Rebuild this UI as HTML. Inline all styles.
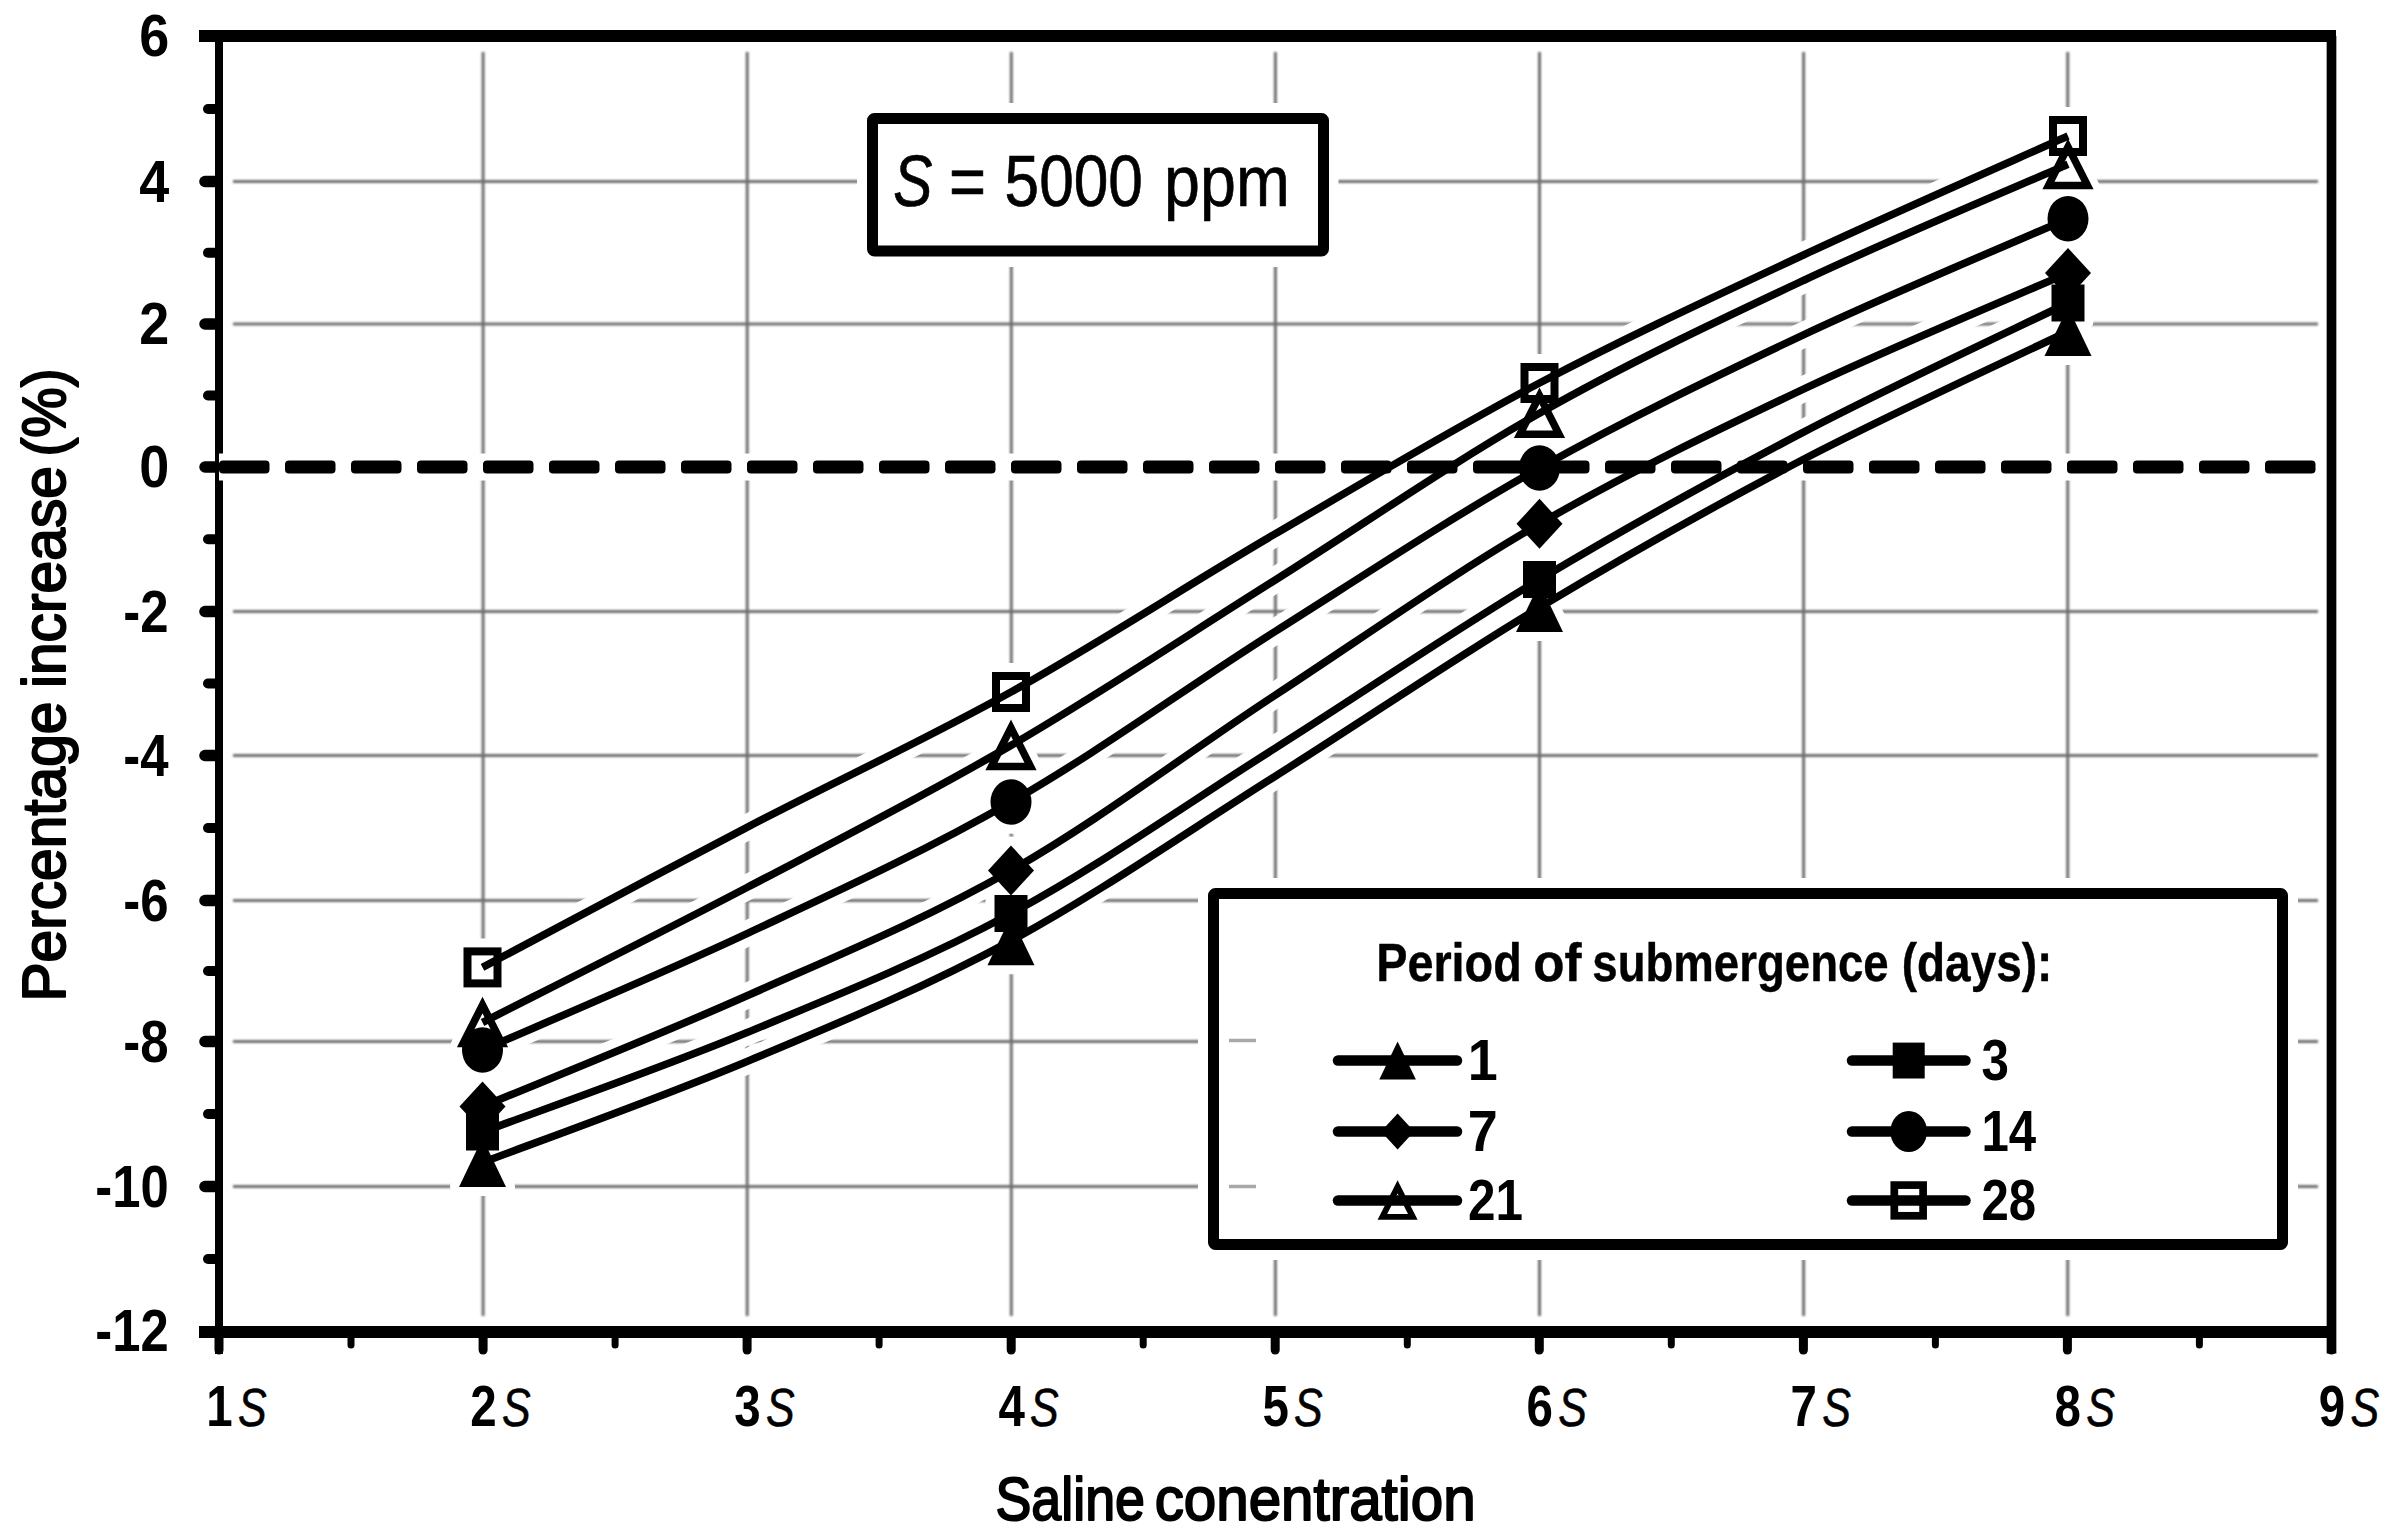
<!DOCTYPE html>
<html lang="en"><head><meta charset="utf-8"><title>Percentage increase vs saline concentration</title>
<style>html,body{margin:0;padding:0;background:#fff}svg{display:block}</style></head>
<body>
<svg width="2389" height="1539" viewBox="0 0 2389 1539" font-family='"Liberation Sans", sans-serif'>
<rect width="2389" height="1539" fill="#fff"/>
<defs><filter id="soft" x="-2%" y="-2%" width="104%" height="104%"><feGaussianBlur stdDeviation="0.8"/></filter></defs>
<g stroke="#707070" stroke-width="3" fill="none" filter="url(#soft)">
<line x1="233" y1="181.5" x2="2318" y2="181.5"/>
<line x1="233" y1="324" x2="2318" y2="324"/>
<line x1="233" y1="611.5" x2="2318" y2="611.5"/>
<line x1="233" y1="755.5" x2="2318" y2="755.5"/>
<line x1="233" y1="900.5" x2="2318" y2="900.5"/>
<line x1="233" y1="1041.5" x2="2318" y2="1041.5"/>
<line x1="233" y1="1186.5" x2="2318" y2="1186.5"/>
<line x1="483.1" y1="52" x2="483.1" y2="1316"/>
<line x1="747.2" y1="52" x2="747.2" y2="1316"/>
<line x1="1011.3" y1="52" x2="1011.3" y2="1316"/>
<line x1="1275.4" y1="52" x2="1275.4" y2="1316"/>
<line x1="1539.5" y1="52" x2="1539.5" y2="1316"/>
<line x1="1803.6" y1="52" x2="1803.6" y2="1316"/>
<line x1="2067.7" y1="52" x2="2067.7" y2="1316"/>
</g>
<g stroke="#000" fill="none">
<line x1="199" y1="36" x2="2336" y2="36" stroke-width="12"/>
<line x1="199" y1="1332" x2="2336" y2="1332" stroke-width="12"/>
<line x1="219" y1="36" x2="219" y2="1354" stroke-width="8"/>
<line x1="2331.5" y1="36" x2="2331.5" y2="1353.5" stroke-width="9.7"/>
<line x1="208" y1="1259.0" x2="216.5" y2="1259.0" stroke-width="10" stroke-linecap="round"/>
<line x1="205" y1="1186.5" x2="216.5" y2="1186.5" stroke-width="11.5" stroke-linecap="round"/>
<line x1="208" y1="1114.0" x2="216.5" y2="1114.0" stroke-width="10" stroke-linecap="round"/>
<line x1="205" y1="1041.5" x2="216.5" y2="1041.5" stroke-width="11.5" stroke-linecap="round"/>
<line x1="208" y1="971.0" x2="216.5" y2="971.0" stroke-width="10" stroke-linecap="round"/>
<line x1="205" y1="900.5" x2="216.5" y2="900.5" stroke-width="11.5" stroke-linecap="round"/>
<line x1="208" y1="828.0" x2="216.5" y2="828.0" stroke-width="10" stroke-linecap="round"/>
<line x1="205" y1="755.5" x2="216.5" y2="755.5" stroke-width="11.5" stroke-linecap="round"/>
<line x1="208" y1="683.5" x2="216.5" y2="683.5" stroke-width="10" stroke-linecap="round"/>
<line x1="205" y1="611.5" x2="216.5" y2="611.5" stroke-width="11.5" stroke-linecap="round"/>
<line x1="208" y1="539.25" x2="216.5" y2="539.25" stroke-width="10" stroke-linecap="round"/>
<line x1="205" y1="467" x2="216.5" y2="467" stroke-width="11.5" stroke-linecap="round"/>
<line x1="208" y1="395.5" x2="216.5" y2="395.5" stroke-width="10" stroke-linecap="round"/>
<line x1="205" y1="324" x2="216.5" y2="324" stroke-width="11.5" stroke-linecap="round"/>
<line x1="208" y1="252.75" x2="216.5" y2="252.75" stroke-width="10" stroke-linecap="round"/>
<line x1="205" y1="181.5" x2="216.5" y2="181.5" stroke-width="11.5" stroke-linecap="round"/>
<line x1="208" y1="109.0" x2="216.5" y2="109.0" stroke-width="10" stroke-linecap="round"/>
<line x1="219.0" y1="1332" x2="219.0" y2="1350" stroke-width="9" stroke-linecap="round"/>
<line x1="351.0" y1="1332" x2="351.0" y2="1345" stroke-width="7" stroke-linecap="round"/>
<line x1="483.1" y1="1332" x2="483.1" y2="1350" stroke-width="9" stroke-linecap="round"/>
<line x1="615.1" y1="1332" x2="615.1" y2="1345" stroke-width="7" stroke-linecap="round"/>
<line x1="747.1" y1="1332" x2="747.1" y2="1350" stroke-width="9" stroke-linecap="round"/>
<line x1="879.1" y1="1332" x2="879.1" y2="1345" stroke-width="7" stroke-linecap="round"/>
<line x1="1011.2" y1="1332" x2="1011.2" y2="1350" stroke-width="9" stroke-linecap="round"/>
<line x1="1143.2" y1="1332" x2="1143.2" y2="1345" stroke-width="7" stroke-linecap="round"/>
<line x1="1275.2" y1="1332" x2="1275.2" y2="1350" stroke-width="9" stroke-linecap="round"/>
<line x1="1407.3" y1="1332" x2="1407.3" y2="1345" stroke-width="7" stroke-linecap="round"/>
<line x1="1539.3" y1="1332" x2="1539.3" y2="1350" stroke-width="9" stroke-linecap="round"/>
<line x1="1671.3" y1="1332" x2="1671.3" y2="1345" stroke-width="7" stroke-linecap="round"/>
<line x1="1803.4" y1="1332" x2="1803.4" y2="1350" stroke-width="9" stroke-linecap="round"/>
<line x1="1935.4" y1="1332" x2="1935.4" y2="1345" stroke-width="7" stroke-linecap="round"/>
<line x1="2067.4" y1="1332" x2="2067.4" y2="1350" stroke-width="9" stroke-linecap="round"/>
<line x1="2199.4" y1="1332" x2="2199.4" y2="1345" stroke-width="7" stroke-linecap="round"/>
<line x1="2331.5" y1="1332" x2="2331.5" y2="1350" stroke-width="9" stroke-linecap="round"/>
</g>
<g fill="none" stroke="#fff" stroke-width="25.6" stroke-linejoin="round">
<path d="M482.5,1162.5 C526.6,1145.7 658.9,1098.5 747.0,1061.5 C835.1,1024.5 923.1,988.3 1011.0,940.8 C1098.9,893.3 1186.4,832.2 1274.5,776.7 C1362.6,721.2 1451.2,660.5 1539.5,607.5 C1627.8,554.5 1715.9,505.0 1804.0,459.0 C1892.1,413.0 2024.0,352.8 2068.0,331.5"/>
<path d="M482.5,1132.0 C526.6,1115.4 658.9,1068.9 747.0,1032.5 C835.1,996.1 923.1,960.8 1011.0,913.5 C1098.9,866.2 1186.4,804.3 1274.5,748.6 C1362.6,692.9 1451.2,632.3 1539.5,579.5 C1627.8,526.7 1715.9,478.0 1804.0,431.9 C1892.1,385.8 2024.0,324.5 2068.0,303.0"/>
<path d="M482.5,1106.5 C526.6,1088.0 658.9,1035.1 747.0,995.8 C835.1,956.5 923.1,920.5 1011.0,870.5 C1098.9,820.5 1186.4,753.4 1274.5,695.6 C1362.6,637.8 1451.2,574.9 1539.5,523.8 C1627.8,472.7 1715.9,430.7 1804.0,388.9 C1892.1,347.1 2024.0,292.3 2068.0,273.0"/>
<path d="M482.5,1050.0 C526.6,1030.6 658.9,974.9 747.0,933.6 C835.1,892.3 923.1,852.3 1011.0,802.0 C1098.9,751.7 1186.4,687.6 1274.5,631.9 C1362.6,576.2 1451.2,517.5 1539.5,468.0 C1627.8,418.4 1715.9,376.2 1804.0,334.6 C1892.1,293.1 2024.0,238.0 2068.0,218.7"/>
<path d="M482.5,1022.5 C526.6,1000.0 658.9,933.7 747.0,887.5 C835.1,841.3 923.1,796.6 1011.0,745.4 C1098.9,694.2 1186.4,635.9 1274.5,580.5 C1362.6,525.1 1451.2,463.2 1539.5,413.2 C1627.8,363.1 1715.9,321.7 1804.0,280.2 C1892.1,238.7 2024.0,183.6 2068.0,164.3"/>
<path d="M482.5,967.4 C526.6,944.0 658.9,873.2 747.0,827.3 C835.1,781.4 923.1,740.8 1011.0,692.0 C1098.9,643.2 1186.4,585.8 1274.5,534.3 C1362.6,482.8 1451.2,429.6 1539.5,383.0 C1627.8,336.4 1715.9,295.9 1804.0,254.7 C1892.1,213.5 2024.0,155.8 2068.0,136.0"/>
</g>
<g stroke="#fff" stroke-width="18" stroke-linejoin="round" fill="#fff">
<polygon points="482.5,1138.0 506.0,1187.0 459.0,1187.0"/>
<polygon points="1011.0,916.3 1034.5,965.3 987.5,965.3"/>
<polygon points="1539.5,583.0 1563.0,632.0 1516.0,632.0"/>
<polygon points="2068.0,307.0 2091.5,356.0 2044.5,356.0"/>
<rect x="466.0" y="1113.5" width="33.0" height="37.0"/>
<rect x="994.5" y="895.0" width="33.0" height="37.0"/>
<rect x="1523.0" y="561.0" width="33.0" height="37.0"/>
<rect x="2051.5" y="284.5" width="33.0" height="37.0"/>
<polygon points="482.5,1081.5 505.5,1106.5 482.5,1131.5 459.5,1106.5"/>
<polygon points="1011.0,845.5 1034.0,870.5 1011.0,895.5 988.0,870.5"/>
<polygon points="1539.5,498.8 1562.5,523.8 1539.5,548.8 1516.5,523.8"/>
<polygon points="2068.0,248.0 2091.0,273.0 2068.0,298.0 2045.0,273.0"/>
<ellipse cx="482.5" cy="1050.0" rx="20.5" ry="22.8"/>
<ellipse cx="1011.0" cy="802.0" rx="20.5" ry="22.8"/>
<ellipse cx="1539.5" cy="468.0" rx="20.5" ry="22.8"/>
<ellipse cx="2068.0" cy="218.7" rx="20.5" ry="22.8"/>
<polygon points="482.5,998.0 506.0,1047.0 459.0,1047.0"/>
<polygon points="1011.0,720.9 1034.5,769.9 987.5,769.9"/>
<polygon points="1539.5,388.7 1563.0,437.7 1516.0,437.7"/>
<polygon points="2068.0,139.8 2091.5,188.8 2044.5,188.8"/>
<rect x="463.5" y="947.4" width="38.0" height="40.0"/>
<rect x="992.0" y="672.0" width="38.0" height="40.0"/>
<rect x="1520.5" y="363.0" width="38.0" height="40.0"/>
<rect x="2049.0" y="116.0" width="38.0" height="40.0"/>
</g>
<rect x="219" y="453.5" width="2107" height="27" fill="#fff"/>
<rect x="219.0" y="460.5" width="50.5" height="13" rx="4" fill="#000"/>
<rect x="285.0" y="460.5" width="50.5" height="13" rx="4" fill="#000"/>
<rect x="351.0" y="460.5" width="50.5" height="13" rx="4" fill="#000"/>
<rect x="417.0" y="460.5" width="50.5" height="13" rx="4" fill="#000"/>
<rect x="483.0" y="460.5" width="50.5" height="13" rx="4" fill="#000"/>
<rect x="549.0" y="460.5" width="50.5" height="13" rx="4" fill="#000"/>
<rect x="615.0" y="460.5" width="50.5" height="13" rx="4" fill="#000"/>
<rect x="681.0" y="460.5" width="50.5" height="13" rx="4" fill="#000"/>
<rect x="747.0" y="460.5" width="50.5" height="13" rx="4" fill="#000"/>
<rect x="813.0" y="460.5" width="50.5" height="13" rx="4" fill="#000"/>
<rect x="879.0" y="460.5" width="50.5" height="13" rx="4" fill="#000"/>
<rect x="945.0" y="460.5" width="50.5" height="13" rx="4" fill="#000"/>
<rect x="1011.0" y="460.5" width="50.5" height="13" rx="4" fill="#000"/>
<rect x="1077.0" y="460.5" width="50.5" height="13" rx="4" fill="#000"/>
<rect x="1143.0" y="460.5" width="50.5" height="13" rx="4" fill="#000"/>
<rect x="1209.0" y="460.5" width="50.5" height="13" rx="4" fill="#000"/>
<rect x="1275.0" y="460.5" width="50.5" height="13" rx="4" fill="#000"/>
<rect x="1341.0" y="460.5" width="50.5" height="13" rx="4" fill="#000"/>
<rect x="1407.0" y="460.5" width="50.5" height="13" rx="4" fill="#000"/>
<rect x="1473.0" y="460.5" width="50.5" height="13" rx="4" fill="#000"/>
<rect x="1539.0" y="460.5" width="50.5" height="13" rx="4" fill="#000"/>
<rect x="1605.0" y="460.5" width="50.5" height="13" rx="4" fill="#000"/>
<rect x="1671.0" y="460.5" width="50.5" height="13" rx="4" fill="#000"/>
<rect x="1737.0" y="460.5" width="50.5" height="13" rx="4" fill="#000"/>
<rect x="1803.0" y="460.5" width="50.5" height="13" rx="4" fill="#000"/>
<rect x="1869.0" y="460.5" width="50.5" height="13" rx="4" fill="#000"/>
<rect x="1935.0" y="460.5" width="50.5" height="13" rx="4" fill="#000"/>
<rect x="2001.0" y="460.5" width="50.5" height="13" rx="4" fill="#000"/>
<rect x="2067.0" y="460.5" width="50.5" height="13" rx="4" fill="#000"/>
<rect x="2133.0" y="460.5" width="50.5" height="13" rx="4" fill="#000"/>
<rect x="2199.0" y="460.5" width="50.5" height="13" rx="4" fill="#000"/>
<rect x="2265.0" y="460.5" width="50.5" height="13" rx="4" fill="#000"/>
<path d="M482.5,1162.5 C526.6,1145.7 658.9,1098.5 747.0,1061.5 C835.1,1024.5 923.1,988.3 1011.0,940.8 C1098.9,893.3 1186.4,832.2 1274.5,776.7 C1362.6,721.2 1451.2,660.5 1539.5,607.5 C1627.8,554.5 1715.9,505.0 1804.0,459.0 C1892.1,413.0 2024.0,352.8 2068.0,331.5" fill="none" stroke="#000" stroke-width="7.6"/>
<path d="M482.5,1132.0 C526.6,1115.4 658.9,1068.9 747.0,1032.5 C835.1,996.1 923.1,960.8 1011.0,913.5 C1098.9,866.2 1186.4,804.3 1274.5,748.6 C1362.6,692.9 1451.2,632.3 1539.5,579.5 C1627.8,526.7 1715.9,478.0 1804.0,431.9 C1892.1,385.8 2024.0,324.5 2068.0,303.0" fill="none" stroke="#000" stroke-width="7.6"/>
<path d="M482.5,1106.5 C526.6,1088.0 658.9,1035.1 747.0,995.8 C835.1,956.5 923.1,920.5 1011.0,870.5 C1098.9,820.5 1186.4,753.4 1274.5,695.6 C1362.6,637.8 1451.2,574.9 1539.5,523.8 C1627.8,472.7 1715.9,430.7 1804.0,388.9 C1892.1,347.1 2024.0,292.3 2068.0,273.0" fill="none" stroke="#000" stroke-width="7.6"/>
<path d="M482.5,1050.0 C526.6,1030.6 658.9,974.9 747.0,933.6 C835.1,892.3 923.1,852.3 1011.0,802.0 C1098.9,751.7 1186.4,687.6 1274.5,631.9 C1362.6,576.2 1451.2,517.5 1539.5,468.0 C1627.8,418.4 1715.9,376.2 1804.0,334.6 C1892.1,293.1 2024.0,238.0 2068.0,218.7" fill="none" stroke="#000" stroke-width="7.6"/>
<path d="M482.5,1022.5 C526.6,1000.0 658.9,933.7 747.0,887.5 C835.1,841.3 923.1,796.6 1011.0,745.4 C1098.9,694.2 1186.4,635.9 1274.5,580.5 C1362.6,525.1 1451.2,463.2 1539.5,413.2 C1627.8,363.1 1715.9,321.7 1804.0,280.2 C1892.1,238.7 2024.0,183.6 2068.0,164.3" fill="none" stroke="#000" stroke-width="7.6"/>
<path d="M482.5,967.4 C526.6,944.0 658.9,873.2 747.0,827.3 C835.1,781.4 923.1,740.8 1011.0,692.0 C1098.9,643.2 1186.4,585.8 1274.5,534.3 C1362.6,482.8 1451.2,429.6 1539.5,383.0 C1627.8,336.4 1715.9,295.9 1804.0,254.7 C1892.1,213.5 2024.0,155.8 2068.0,136.0" fill="none" stroke="#000" stroke-width="7.6"/>
<polygon points="482.5,1138.0 506.0,1187.0 459.0,1187.0" fill="#000"/>
<polygon points="1011.0,916.3 1034.5,965.3 987.5,965.3" fill="#000"/>
<polygon points="1539.5,583.0 1563.0,632.0 1516.0,632.0" fill="#000"/>
<polygon points="2068.0,307.0 2091.5,356.0 2044.5,356.0" fill="#000"/>
<rect x="466.0" y="1113.5" width="33.0" height="37.0" fill="#000"/>
<rect x="994.5" y="895.0" width="33.0" height="37.0" fill="#000"/>
<rect x="1523.0" y="561.0" width="33.0" height="37.0" fill="#000"/>
<rect x="2051.5" y="284.5" width="33.0" height="37.0" fill="#000"/>
<polygon points="482.5,1081.5 505.5,1106.5 482.5,1131.5 459.5,1106.5" fill="#000"/>
<polygon points="1011.0,845.5 1034.0,870.5 1011.0,895.5 988.0,870.5" fill="#000"/>
<polygon points="1539.5,498.8 1562.5,523.8 1539.5,548.8 1516.5,523.8" fill="#000"/>
<polygon points="2068.0,248.0 2091.0,273.0 2068.0,298.0 2045.0,273.0" fill="#000"/>
<ellipse cx="482.5" cy="1050.0" rx="20.5" ry="22.8" fill="#000"/>
<ellipse cx="1011.0" cy="802.0" rx="20.5" ry="22.8" fill="#000"/>
<ellipse cx="1539.5" cy="468.0" rx="20.5" ry="22.8" fill="#000"/>
<ellipse cx="2068.0" cy="218.7" rx="20.5" ry="22.8" fill="#000"/>
<polygon points="482.5,1005.0 502.0,1043.5 463.0,1043.5" fill="none" stroke="#000" stroke-width="7.5" stroke-linejoin="miter"/>
<polygon points="1011.0,727.9 1030.5,766.4 991.5,766.4" fill="none" stroke="#000" stroke-width="7.5" stroke-linejoin="miter"/>
<polygon points="1539.5,395.8 1559.0,434.2 1520.0,434.2" fill="none" stroke="#000" stroke-width="7.5" stroke-linejoin="miter"/>
<polygon points="2068.0,146.9 2087.5,185.4 2048.5,185.4" fill="none" stroke="#000" stroke-width="7.5" stroke-linejoin="miter"/>
<rect x="467.5" y="951.4" width="30.0" height="32.0" fill="none" stroke="#000" stroke-width="8.0"/>
<rect x="996.0" y="676.0" width="30.0" height="32.0" fill="none" stroke="#000" stroke-width="8.0"/>
<rect x="1524.5" y="367.0" width="30.0" height="32.0" fill="none" stroke="#000" stroke-width="8.0"/>
<rect x="2053.0" y="120.0" width="30.0" height="32.0" fill="none" stroke="#000" stroke-width="8.0"/>
<rect x="857" y="103" width="481.5" height="164" fill="#fff"/>
<rect x="872.5" y="118.5" width="451" height="132.5" rx="2" fill="#fff" stroke="#000" stroke-width="11"/>
<rect x="1198" y="878" width="1100" height="382" fill="#fff"/>
<rect x="1213.5" y="893.5" width="1069" height="351" rx="2" fill="#fff" stroke="#000" stroke-width="11"/>
<path d="M1229,1040.5H1256M1229,1186.5H1256" stroke="#a8a8a8" stroke-width="3.5" fill="none"/>
<line x1="1338" y1="1060.5" x2="1457" y2="1060.5" stroke="#000" stroke-width="10.5" stroke-linecap="round"/>
<polygon points="1397.6,1041.4 1415.9,1079.6 1379.3,1079.6" fill="#000"/>
<line x1="1852" y1="1060.5" x2="1965.5" y2="1060.5" stroke="#000" stroke-width="10.5" stroke-linecap="round"/>
<rect x="1892.7" y="1042.6" width="32.0" height="35.9" fill="#000"/>
<line x1="1338" y1="1131.5" x2="1457" y2="1131.5" stroke="#000" stroke-width="10.5" stroke-linecap="round"/>
<polygon points="1397.6,1113.5 1414.2,1131.5 1397.6,1149.5 1381.0,1131.5" fill="#000"/>
<line x1="1852" y1="1131.5" x2="1965.5" y2="1131.5" stroke="#000" stroke-width="10.5" stroke-linecap="round"/>
<ellipse cx="1908.7" cy="1131.5" rx="18.4" ry="20.5" fill="#000"/>
<line x1="1338" y1="1200.5" x2="1457" y2="1200.5" stroke="#000" stroke-width="10.5" stroke-linecap="round"/>
<polygon points="1397.6,1186.9 1412.8,1216.9 1382.4,1216.9" fill="none" stroke="#000" stroke-width="5.9" stroke-linejoin="miter"/>
<line x1="1852" y1="1200.5" x2="1965.5" y2="1200.5" stroke="#000" stroke-width="10.5" stroke-linecap="round"/>
<rect x="1894.3" y="1185.1" width="28.8" height="30.7" fill="none" stroke="#000" stroke-width="7.7"/>
<text x="893.2" y="205.5" font-size="73" font-style="italic" stroke="#000" stroke-width="0.7"  textLength="39.2" lengthAdjust="spacingAndGlyphs">S</text>
<text x="949.1" y="205.5" font-size="73" stroke="#000" stroke-width="0.7"  textLength="37.0" lengthAdjust="spacingAndGlyphs">=</text>
<text x="1004.6" y="205.5" font-size="73" stroke="#000" stroke-width="0.7"  textLength="138.3" lengthAdjust="spacingAndGlyphs">5000</text>
<text x="1164.1" y="205.5" font-size="73" stroke="#000" stroke-width="0.7"  textLength="125.7" lengthAdjust="spacingAndGlyphs">ppm</text>
<text x="1376.2" y="980.5" font-size="53" font-weight="bold" stroke="#000" stroke-width="0.4" stroke-linejoin="round"  textLength="145.6" lengthAdjust="spacingAndGlyphs">Period</text>
<text x="1533.2" y="980.5" font-size="53" font-weight="bold" stroke="#000" stroke-width="0.4" stroke-linejoin="round"  textLength="48.3" lengthAdjust="spacingAndGlyphs">of</text>
<text x="1592.3" y="980.5" font-size="53" font-weight="bold" stroke="#000" stroke-width="0.4" stroke-linejoin="round"  textLength="296.4" lengthAdjust="spacingAndGlyphs">submergence</text>
<text x="1901.7" y="980.5" font-size="53" font-weight="bold" stroke="#000" stroke-width="0.4" stroke-linejoin="round"  textLength="150.7" lengthAdjust="spacingAndGlyphs">(days):</text>
<text x="1467.7" y="1079.7" font-size="58" font-weight="bold"  textLength="30.0" lengthAdjust="spacingAndGlyphs">1</text>
<text x="1981.4" y="1079.7" font-size="58" font-weight="bold"  textLength="27.4" lengthAdjust="spacingAndGlyphs">3</text>
<text x="1467.7" y="1150.7" font-size="58" font-weight="bold"  textLength="30.0" lengthAdjust="spacingAndGlyphs">7</text>
<text x="1981.4" y="1150.7" font-size="58" font-weight="bold"  textLength="54.7" lengthAdjust="spacingAndGlyphs">14</text>
<text x="1467.9" y="1219.7" font-size="58" font-weight="bold"  textLength="55.0" lengthAdjust="spacingAndGlyphs">21</text>
<text x="1981.4" y="1219.7" font-size="58" font-weight="bold"  textLength="54.7" lengthAdjust="spacingAndGlyphs">28</text>
<text x="95.3" y="1351.2" font-size="59" font-weight="bold"  textLength="73.4" lengthAdjust="spacingAndGlyphs">-12</text>
<text x="95.3" y="1206.7" font-size="59" font-weight="bold"  textLength="73.4" lengthAdjust="spacingAndGlyphs">-10</text>
<text x="123.3" y="1061.7" font-size="59" font-weight="bold"  textLength="45.3" lengthAdjust="spacingAndGlyphs">-8</text>
<text x="123.3" y="920.7" font-size="59" font-weight="bold"  textLength="45.3" lengthAdjust="spacingAndGlyphs">-6</text>
<text x="123.3" y="775.7" font-size="59" font-weight="bold"  textLength="45.3" lengthAdjust="spacingAndGlyphs">-4</text>
<text x="123.3" y="631.7" font-size="59" font-weight="bold"  textLength="45.3" lengthAdjust="spacingAndGlyphs">-2</text>
<text x="139.2" y="487.2" font-size="59" font-weight="bold"  textLength="30.0" lengthAdjust="spacingAndGlyphs">0</text>
<text x="139.2" y="344.2" font-size="59" font-weight="bold"  textLength="30.0" lengthAdjust="spacingAndGlyphs">2</text>
<text x="139.2" y="201.7" font-size="59" font-weight="bold"  textLength="30.0" lengthAdjust="spacingAndGlyphs">4</text>
<text x="139.2" y="55.900000000000006" font-size="59" font-weight="bold"  textLength="30.0" lengthAdjust="spacingAndGlyphs">6</text>
<text x="206.2" y="1426" font-size="58" font-weight="bold"  textLength="26.4" lengthAdjust="spacingAndGlyphs">1</text>
<text x="237.9" y="1426" font-size="53" font-style="italic" stroke="#000" stroke-width="0.6"  textLength="28.7" lengthAdjust="spacingAndGlyphs">S</text>
<text x="470.3" y="1426" font-size="58" font-weight="bold"  textLength="26.4" lengthAdjust="spacingAndGlyphs">2</text>
<text x="502.0" y="1426" font-size="53" font-style="italic" stroke="#000" stroke-width="0.6"  textLength="28.7" lengthAdjust="spacingAndGlyphs">S</text>
<text x="734.3" y="1426" font-size="58" font-weight="bold"  textLength="26.4" lengthAdjust="spacingAndGlyphs">3</text>
<text x="766.0" y="1426" font-size="53" font-style="italic" stroke="#000" stroke-width="0.6"  textLength="28.7" lengthAdjust="spacingAndGlyphs">S</text>
<text x="998.4" y="1426" font-size="58" font-weight="bold"  textLength="26.4" lengthAdjust="spacingAndGlyphs">4</text>
<text x="1030.1" y="1426" font-size="53" font-style="italic" stroke="#000" stroke-width="0.6"  textLength="28.7" lengthAdjust="spacingAndGlyphs">S</text>
<text x="1262.4" y="1426" font-size="58" font-weight="bold"  textLength="26.4" lengthAdjust="spacingAndGlyphs">5</text>
<text x="1294.1" y="1426" font-size="53" font-style="italic" stroke="#000" stroke-width="0.6"  textLength="28.7" lengthAdjust="spacingAndGlyphs">S</text>
<text x="1526.5" y="1426" font-size="58" font-weight="bold"  textLength="26.4" lengthAdjust="spacingAndGlyphs">6</text>
<text x="1558.2" y="1426" font-size="53" font-style="italic" stroke="#000" stroke-width="0.6"  textLength="28.7" lengthAdjust="spacingAndGlyphs">S</text>
<text x="1790.6" y="1426" font-size="58" font-weight="bold"  textLength="26.4" lengthAdjust="spacingAndGlyphs">7</text>
<text x="1822.3" y="1426" font-size="53" font-style="italic" stroke="#000" stroke-width="0.6"  textLength="28.7" lengthAdjust="spacingAndGlyphs">S</text>
<text x="2054.6" y="1426" font-size="58" font-weight="bold"  textLength="26.4" lengthAdjust="spacingAndGlyphs">8</text>
<text x="2086.3" y="1426" font-size="53" font-style="italic" stroke="#000" stroke-width="0.6"  textLength="28.7" lengthAdjust="spacingAndGlyphs">S</text>
<text x="2318.7" y="1426" font-size="58" font-weight="bold"  textLength="26.4" lengthAdjust="spacingAndGlyphs">9</text>
<text x="2350.4" y="1426" font-size="53" font-style="italic" stroke="#000" stroke-width="0.6"  textLength="28.7" lengthAdjust="spacingAndGlyphs">S</text>
<text x="995.5" y="1519.5" font-size="62" stroke="#000" stroke-width="2" stroke-linejoin="round"  textLength="149.5" lengthAdjust="spacingAndGlyphs">Saline</text>
<text x="1154.7" y="1519.5" font-size="62" stroke="#000" stroke-width="2" stroke-linejoin="round"  textLength="320.9" lengthAdjust="spacingAndGlyphs">conentration</text>
<g transform="translate(65,997.5) rotate(-90)">
<text x="-4.1" y="0" font-size="61" stroke="#000" stroke-width="2" stroke-linejoin="round"  textLength="300.1" lengthAdjust="spacingAndGlyphs">Percentage</text>
<text x="309.4" y="0" font-size="61" stroke="#000" stroke-width="2" stroke-linejoin="round"  textLength="222.1" lengthAdjust="spacingAndGlyphs">increase</text>
<text x="540.9" y="0" font-size="61" stroke="#000" stroke-width="2" stroke-linejoin="round"  textLength="88.2" lengthAdjust="spacingAndGlyphs">(%)</text>
</g>
</svg>
</body></html>
